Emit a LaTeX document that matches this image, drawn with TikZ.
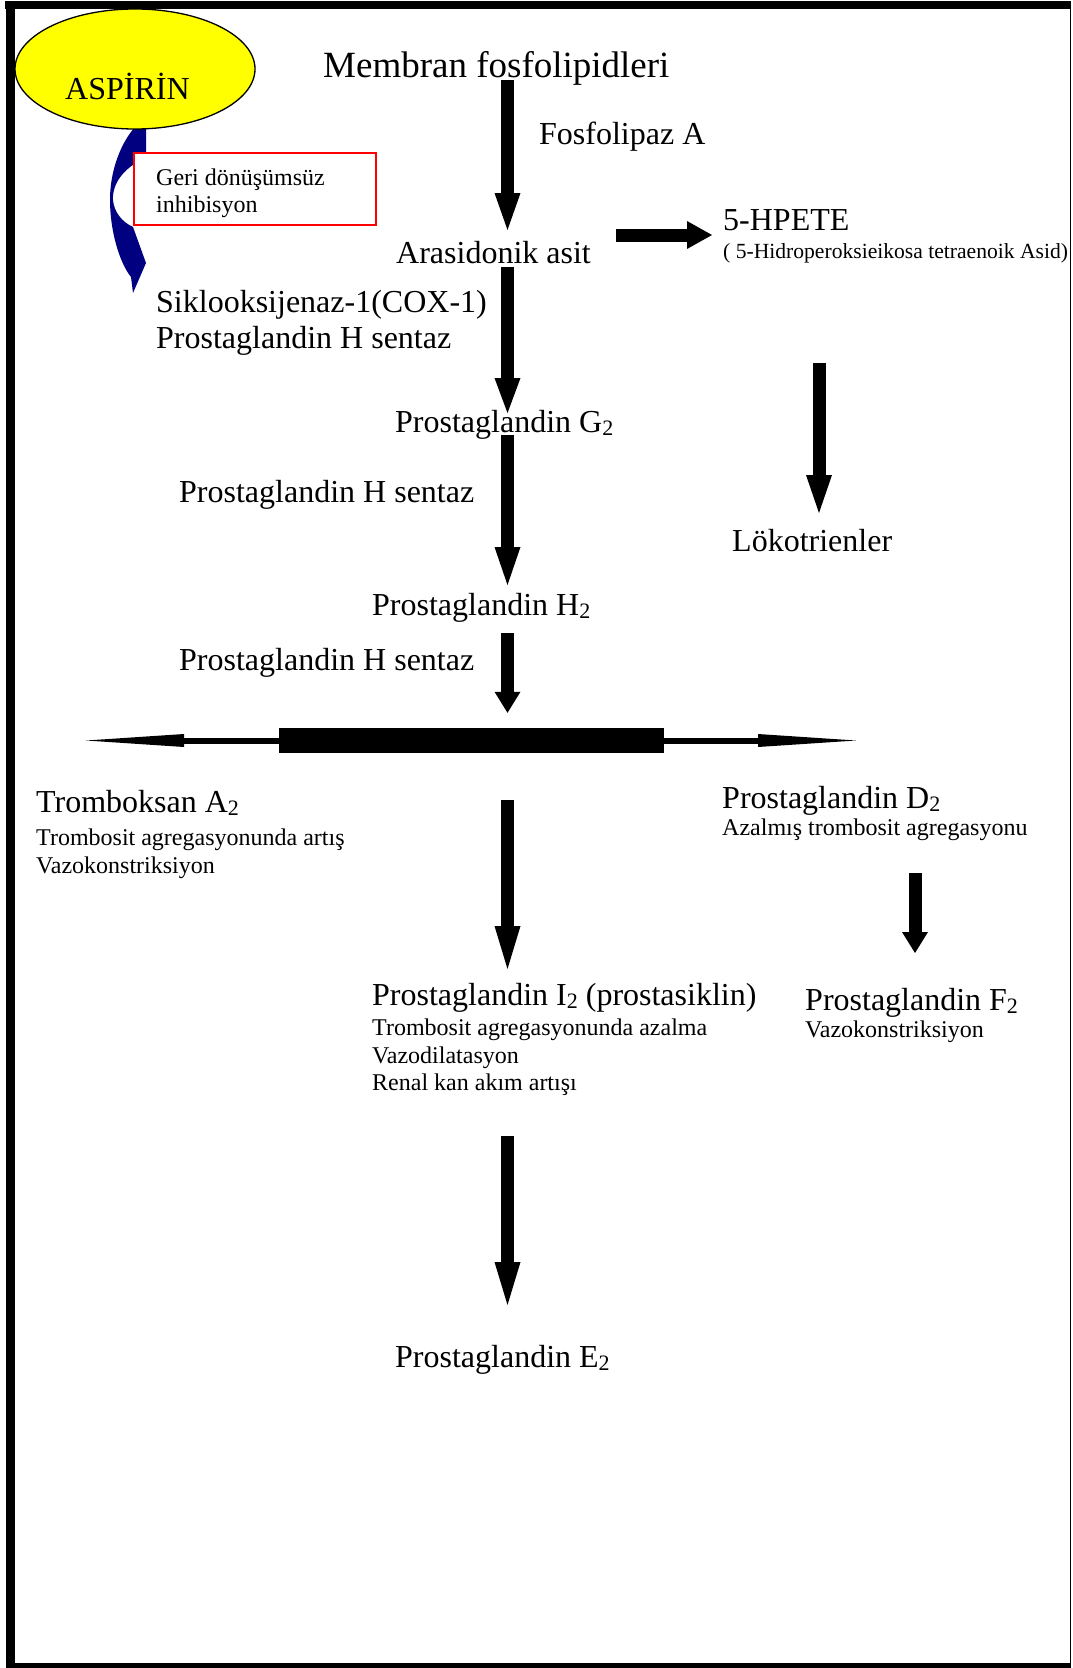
\documentclass[tikz,border=0pt]{standalone}
\usepackage{fontspec}
\setmainfont{Liberation Serif}
\usetikzlibrary{arrows.meta,calc,shapes.geometric}
\definecolor{aspyellow}{RGB}{255,255,0}
\definecolor{inhnavy}{RGB}{0,0,128}
\newcommand\lowidx[1]{\raisebox{-3pt}{\fontsize{22}{22}\selectfont #1}}
\begin{document}
\begin{tikzpicture}[x=1pt,y=-1pt,
  lbl/.style={anchor=base west, inner sep=0pt, font=\fontsize{32}{38}\selectfont},
  small/.style={anchor=base west, inner sep=0pt, font=\fontsize{24}{28}\selectfont},
  tiny/.style={anchor=base west, inner sep=0pt, font=\fontsize{21.6}{25}\selectfont},
  fatarrow/.style={line width=13pt, -{Triangle[length=#1,width=26pt,line width=0pt]}},
  fatarrow/.default=38pt,
  thinarrow/.style={line width=6pt, -{Triangle[length=98pt,width=13pt,line width=0pt]}}]
\useasboundingbox (0,0) rectangle (1072,1668);
\fill[white] (0,0) rectangle (1072,1668);
% frame
\fill[black] (5,1) rectangle (1071,8.5);
\fill[black] (6,1) rectangle (15,1668);
\fill[black] (6,1663) rectangle (1071,1668);
\draw[line width=1.5pt] (1070.5,1) -- (1070.5,1668);
% curved inhibition arrow
\fill[inhnavy] (146,118) -- (146,158)
  .. controls (126,166) and (112,182) .. (113,200)
  .. controls (114,212) and (122,222) .. (133,227)
  -- (146,263) -- (133,293) -- (131,277)
  .. controls (119,262) and (110,230) .. (110,200)
  .. controls (110,165) and (125,135) .. (140,122) -- cycle;
% aspirin ellipse
\node[ellipse, draw, fill=aspyellow, line width=1.3pt, minimum width=240pt, minimum height=120pt, inner sep=0pt] (asp) at (135,69) {};
\node[lbl] (asptxt) at (65,99) {ASPİRİN};
% red box
\node[draw=red, fill=white, line width=1.5pt, minimum width=242pt, minimum height=72pt, inner sep=0pt] (box) at (255,189) {};
\node[small] (geri1) at (156,185) {Geri dönüşümsüz};
\node[small] (geri2) at (156,212) {inhibisyon};
% main labels
\node[lbl, font=\fontsize{37}{44}\selectfont] (mem) at (323,77) {Membran fosfolipidleri};
\node[lbl] (fos) at (539,144) {Fosfolipaz A};
\node[lbl] (ara) at (396,263) {Arasidonik asit};
\node[lbl] (hpete) at (723,230) {5-HPETE};
\node[tiny] (hpid) at (723,258) {( 5-Hidroperoksieikosa tetraenoik Asid)};
\node[lbl] (cox) at (156,312) {Siklooksijenaz-1(COX-1)};
\node[lbl] (phs1) at (156,348) {Prostaglandin H sentaz};
\node[lbl] (pg2) at (395,432) {Prostaglandin G\lowidx{2}};
\node[lbl] (phs2) at (179,502) {Prostaglandin H sentaz};
\node[lbl] (lok) at (732,551) {Lökotrienler};
\node[lbl] (ph2) at (372,615) {Prostaglandin H\lowidx{2}};
\node[lbl] (phs3) at (179,670) {Prostaglandin H sentaz};
% branch bar
\node[fill=black, inner sep=0pt, minimum width=385pt, minimum height=25pt] (bar) at (471.5,740.5) {};
\coordinate (lt) at (86,740.5);
\coordinate (rt) at (856,740.5);
\draw[thinarrow] (bar.west) -- (lt);
\draw[thinarrow] (bar.east) -- (rt);
% products
\node[lbl] (tx) at (36,812) {Tromboksan A\lowidx{2}};
\node[small] (tx1) at (36,845) {Trombosit agregasyonunda artış};
\node[small] (tx2) at (36,873) {Vazokonstriksiyon};
\node[lbl] (pgd) at (722,808) {Prostaglandin D\lowidx{2}};
\node[small] (azal) at (722,835) {Azalmış trombosit agregasyonu};
\node[lbl] (pgi) at (372,1005) {Prostaglandin I\lowidx{2} (prostasiklin)};
\node[small] (pgi1) at (372,1035) {Trombosit agregasyonunda azalma};
\node[small] (pgi2) at (372,1063) {Vazodilatasyon};
\node[small] (ren) at (372,1090) {Renal kan akım artışı};
\node[lbl] (pgf) at (805,1010) {Prostaglandin F\lowidx{2}};
\node[small] (pgf1) at (805,1037) {Vazokonstriksiyon};
\node[lbl] (pge) at (395,1367) {Prostaglandin E\lowidx{2}};
% arrows
\coordinate (ax) at (507.5,0);
\coordinate (lx) at (819,0);
\coordinate (fx) at (915,0);
\draw[fatarrow=37pt] ($(mem.base -| ax)+(0,3)$) -- ($(ara.base -| ax)+(0,-33)$);
\draw[fatarrow=35pt] ($(ara.base -| ax)+(0,4)$) -- ($(pg2.base -| ax)+(0,-19)$);
\draw[fatarrow=38pt] ($(pg2.base -| ax)+(0,3)$) -- ($(ph2.base -| ax)+(0,-30)$);
\draw[fatarrow=21pt] ($(ph2.base -| ax)+(0,18)$) -- ($(bar.north -| ax)+(0,-15)$);
\draw[fatarrow=43pt] ($(bar.south -| ax)+(0,47)$) -- ($(pgi.base -| ax)+(0,-36)$);
\draw[fatarrow=43pt] ($(ren.base -| ax)+(0,46)$) -- ($(pge.base -| ax)+(0,-62)$);
\draw[fatarrow=38pt] ($(hpid.base -| lx)+(0,105)$) -- ($(lok.base -| lx)+(0,-38)$);
\draw[fatarrow=21pt] ($(azal.base -| fx)+(0,38)$) -- ($(pgf.base -| fx)+(0,-57)$);
\draw[line width=13pt, -{Triangle[length=25pt,width=28pt,line width=0pt]}] ($(ara.base east)+(25,-28)$) -- ($(hpete.base west)+(-11,5)$);
\end{tikzpicture}
\end{document}
